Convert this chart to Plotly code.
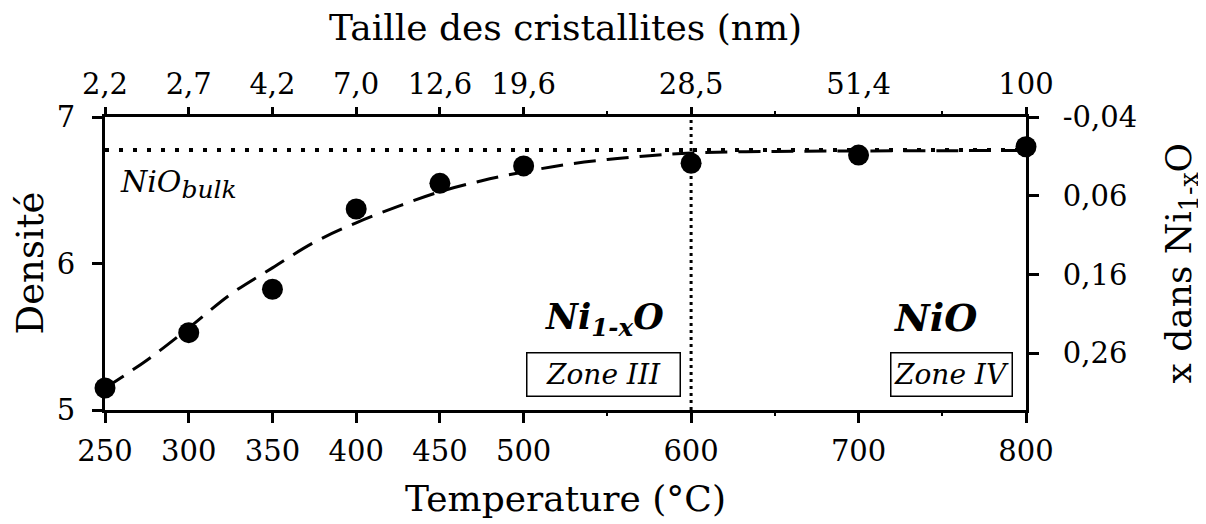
import plotly.graph_objects as go

# ---- data ----
temperature = [250, 300, 350, 400, 450, 500, 600, 700, 800]
densite = [5.15, 5.528, 5.824, 6.372, 6.547, 6.666, 6.684, 6.74, 6.797]
taille_labels = ["2,2", "2,7", "4,2", "7,0", "12,6", "19,6", "28,5", "51,4", "100"]

curve_T = [250, 275, 300, 325, 350, 375, 400, 425, 450, 475, 500, 525, 550, 575, 600, 650, 700, 750, 800]
curve_D = [5.15, 5.34, 5.56, 5.79, 5.97, 6.145, 6.278, 6.39, 6.49, 6.565, 6.625, 6.675, 6.71, 6.735, 6.755,
           6.765, 6.768, 6.77, 6.772]

nio_bulk = 6.775
zone_boundary = 600
minor_step = 50

x_ticks = [-0.04, 0.06, 0.16, 0.26]
x_tick_labels = ["-0,04", "0,06", "0,16", "0,26"]
density_ticks = [5, 6, 7]

FONT = "DejaVu Serif"
TICK = 29

fig = go.Figure()

# NiO bulk dotted reference line
fig.add_trace(go.Scatter(
    x=[temperature[0], temperature[-1]], y=[nio_bulk, nio_bulk], mode="lines",
    line=dict(color="black", width=4, dash="4px,10px"), hoverinfo="skip", showlegend=False))

# dashed fit curve
fig.add_trace(go.Scatter(
    x=curve_T, y=curve_D, mode="lines",
    line=dict(color="black", width=3, dash="22px,11px", shape="spline", smoothing=1),
    hoverinfo="skip", showlegend=False))

# data points
fig.add_trace(go.Scatter(
    x=temperature, y=densite, mode="markers",
    marker=dict(color="black", size=21), cliponaxis=False, showlegend=False))

# vertical dotted boundary
fig.add_shape(type="line", x0=zone_boundary, x1=zone_boundary, xref="x", y0=0, y1=1, yref="paper",
              line=dict(color="black", width=3, dash="3px,4px"))

axis_common = dict(showline=True, linewidth=3, linecolor="black", showgrid=False, zeroline=False,
                   ticks="outside", ticklen=10, tickwidth=3, tickcolor="black",
                   tickfont=dict(family=FONT, size=TICK, color="black"))
minor_common = dict(tick0=temperature[0], dtick=minor_step, ticks="outside", ticklen=3, tickwidth=2,
                    tickcolor="black", showgrid=False)

# page body has an 8px default margin: shrink the figure so it fits the 1206x524 window
fig.update_layout(
    width=1198, height=516,
    margin=dict(l=97, r=180, t=109, b=114),
    paper_bgcolor="white", plot_bgcolor="white",
    font=dict(family=FONT, color="black"),
    xaxis=dict(range=[250, 800], tickvals=temperature, ticklabelstandoff=3, minor=minor_common,
               **axis_common),
    xaxis2=dict(range=[250, 800], tickvals=temperature, ticktext=taille_labels, overlaying="x",
                side="top", anchor="y", ticklabelstandoff=1, minor=minor_common,
                **{**axis_common, "ticklen": 7}),
    yaxis=dict(range=[5, 7], tickvals=density_ticks, ticklabelstandoff=11, **axis_common),
    yaxis2=dict(range=[0.332, -0.04], tickvals=x_ticks, ticktext=x_tick_labels, overlaying="y",
                side="right", anchor="x", ticklabelstandoff=18, **axis_common),
)

# invisible trace so the secondary axes are registered
fig.add_trace(go.Scatter(x=[temperature[0]], y=[x_ticks[0]], xaxis="x2", yaxis="y2", mode="markers",
                         marker=dict(opacity=0), hoverinfo="skip", showlegend=False))

ann = []
ann.append(dict(text="Temperature (°C)", xref="paper", yref="paper", x=0.5, y=0, yanchor="middle",
                yshift=-88, showarrow=False, font=dict(size=36)))
ann.append(dict(text="Taille des cristallites (nm)", xref="paper", yref="paper", x=0.5, y=1, yanchor="middle",
                yshift=90, showarrow=False, font=dict(size=36)))
ann.append(dict(text="Densité", xref="paper", yref="paper", x=0, y=0.5, xanchor="center", xshift=-75,
                textangle=-90, showarrow=False, font=dict(size=37)))
ann.append(dict(text="x dans Ni<sub>1-x</sub>O", xref="paper", yref="paper", x=1, y=0.5, xanchor="center",
                xshift=155, textangle=-90, showarrow=False, font=dict(size=36)))
ann.append(dict(text="<i>NiO<sub><span style=\"font-size:25px\">bulk</span></sub></i>", xref="x", yref="y",
                x=258, y=6.54, xanchor="left", yanchor="middle", showarrow=False, font=dict(size=30)))
ann.append(dict(text="<b><i>Ni<sub>1-x</sub>O</i></b>", xref="x", yref="y", x=548, y=5.62, xanchor="center",
                yanchor="middle", showarrow=False, font=dict(size=35)))
ann.append(dict(text="<b><i>NiO</i></b>", xref="x", yref="y", x=746, y=5.63, xanchor="center",
                yanchor="middle", showarrow=False, font=dict(size=38)))
ann.append(dict(text="<i>Zone III</i>", xref="x", yref="y", x=547.7, y=5.239, xanchor="center",
                yanchor="middle", showarrow=False, font=dict(size=28), width=150, height=40,
                bordercolor="black", borderwidth=1.5, borderpad=1, bgcolor="white"))
ann.append(dict(text="<i>Zone IV</i>", xref="x", yref="y", x=755.8, y=5.239, xanchor="center",
                yanchor="middle", showarrow=False, font=dict(size=28), width=118, height=40,
                bordercolor="black", borderwidth=1.5, borderpad=1, bgcolor="white"))
fig.update_layout(annotations=ann)

fig.write_html("out.html")
